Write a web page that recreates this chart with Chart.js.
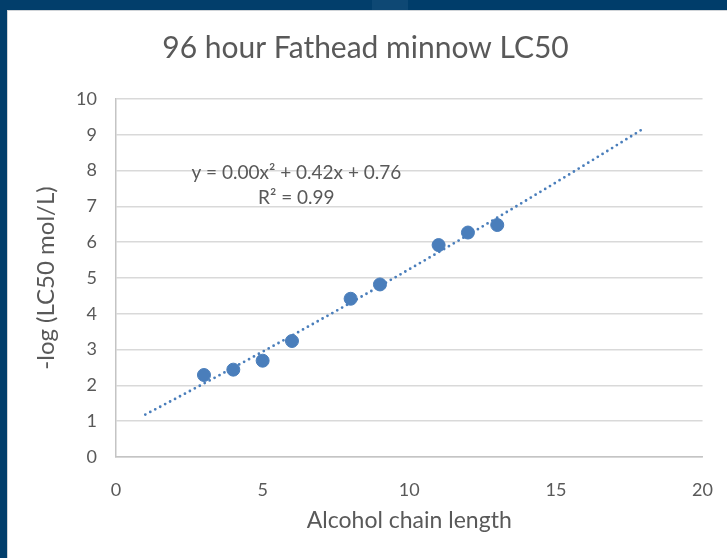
<!DOCTYPE html>
<html>
<head>
<meta charset="utf-8">
<script src="https://cdn.jsdelivr.net/npm/chart.js@4.4.1/dist/chart.umd.min.js"></script>
<style>
  html, body { margin: 0; padding: 0; }
  body {
    width: 727px; height: 558px; overflow: hidden;
    background: linear-gradient(90deg, #023e6b 0, #023e6b 372px, #0e4874 372px, #0e4874 408px, #003d6a 408px);
  }
  #panel {
    position: absolute; left: 7px; top: 10px; width: 720px; height: 548px;
    background: #fff; border-top: 1px solid #d0d4d8; border-left: 1px solid #d0d4d8; box-sizing: border-box;
  }
</style>
</head>
<body>
<div id="panel"><canvas id="lcChart"></canvas></div>
<script>
// values
const chainLength = [3, 4, 5, 6, 8, 9, 11, 12, 13];
const negLogLC50 = [2.29, 2.44, 2.69, 3.24, 4.42, 4.82, 5.92, 6.27, 6.48];
const xTicks = [0, 5, 10, 15, 20];
const yTicks = [0, 1, 2, 3, 4, 5, 6, 7, 8, 9, 10];
const trendRange = [1, 18];
const eqLines = ['y = 0.00x\u00b2 + 0.42x + 0.76', 'R\u00b2 = 0.99'];

const blue = '#4a7ebb';
const grey = '#595959';

// 2nd order polynomial trendline (least squares), like Excel does
function polyFit2(xs, ys) {
    let s = [0, 0, 0, 0, 0], t = [0, 0, 0];
    for (let i = 0; i < xs.length; i++) {
        let p = 1;
        for (let k = 0; k < 5; k++) { s[k] += p; if (k < 3) t[k] += p * ys[i]; p *= xs[i]; }
    }
    // solve [s0 s1 s2; s1 s2 s3; s2 s3 s4] [c b a] = t
    const m = [[s[0], s[1], s[2], t[0]], [s[1], s[2], s[3], t[1]], [s[2], s[3], s[4], t[2]]];
    for (let i = 0; i < 3; i++) {
        for (let j = i + 1; j < 3; j++) {
            const f = m[j][i] / m[i][i];
            for (let k = i; k < 4; k++) m[j][k] -= f * m[i][k];
        }
    }
    const r = [0, 0, 0];
    for (let i = 2; i >= 0; i--) {
        let v = m[i][3];
        for (let k = i + 1; k < 3; k++) v -= m[i][k] * r[k];
        r[i] = v / m[i][i];
    }
    return r; // [c, b, a]
}

const coef = polyFit2(chainLength, negLogLC50);
const trendPts = [];
for (let x = trendRange[0]; x <= trendRange[1] + 1e-9; x += 0.5) {
    trendPts.push({ x: x, y: coef[0] + coef[1] * x + coef[2] * x * x });
}

const eqLabel = {
    id: 'eqLabel',
    afterDatasetsDraw(chart) {
        const { ctx, scales } = chart;
        ctx.save();
        ctx.fillStyle = grey;
        ctx.font = '19px Lato';
        ctx.textAlign = 'center';
        ctx.textBaseline = 'middle';
        const cx = scales.x.getPixelForValue(6.15);
        ctx.fillText(eqLines[0], cx, scales.y.getPixelForValue(7.95));
        ctx.fillText(eqLines[1], cx, scales.y.getPixelForValue(7.25));
        ctx.restore();
    }
};

const chart = new Chart(document.getElementById('lcChart'), {
    type: 'scatter',
    data: {
        datasets: [
            {
                label: 'data',
                data: chainLength.map((x, i) => ({ x: x, y: negLogLC50[i] })),
                backgroundColor: blue,
                borderColor: blue,
                pointRadius: 6.5,
                pointHoverRadius: 6.5
            },
            {
                label: 'trend',
                data: trendPts,
                showLine: true,
                borderColor: blue,
                borderWidth: 2.8,
                borderDash: [0, 5.6],
                borderCapStyle: 'round',
                pointRadius: 0,
                fill: false
            }
        ]
    },
    options: {
        responsive: true,
        maintainAspectRatio: false,
        animation: false,
        layout: { padding: { top: 4, left: 20, right: 24, bottom: 21 } },
        plugins: {
            legend: { display: false },
            tooltip: { enabled: false },
            title: {
                display: true,
                text: '96 hour Fathead minnow LC50',
                color: grey,
                font: { family: 'Lato', size: 30, weight: 'normal' },
                padding: { top: 15, bottom: 33 }
            }
        },
        scales: {
            x: {
                type: 'linear',
                min: 0, max: 20,
                afterBuildTicks: s => { s.ticks = xTicks.map(v => ({ value: v })); },
                afterFit: s => { s.height = 80; },
                ticks: { color: grey, font: { family: 'Lato', size: 18 }, padding: 14 },
                grid: { display: false },
                border: { display: true, color: '#c4c4c4', width: 1.5 },
                title: {
                    display: true, text: 'Alcohol chain length', color: grey,
                    font: { family: 'Lato', size: 23 }, padding: { top: 0, bottom: 3 }
                }
            },
            y: {
                min: 0, max: 10,
                afterBuildTicks: s => { s.ticks = yTicks.map(v => ({ value: v })); },
                afterFit: s => { s.width = 88; },
                ticks: { color: grey, font: { family: 'Lato', size: 18 }, padding: 19 },
                grid: { color: '#d9d9d9', lineWidth: 1.5, drawTicks: false },
                border: { display: true, color: '#c4c4c4', width: 1.5 },
                title: {
                    display: true, text: '-log (LC50 mol/L)', color: grey,
                    font: { family: 'Lato', size: 24 }, padding: { top: 4, bottom: 0 }
                }
            }
        }
    },
    plugins: [eqLabel]
});
</script>
</body>
</html>
